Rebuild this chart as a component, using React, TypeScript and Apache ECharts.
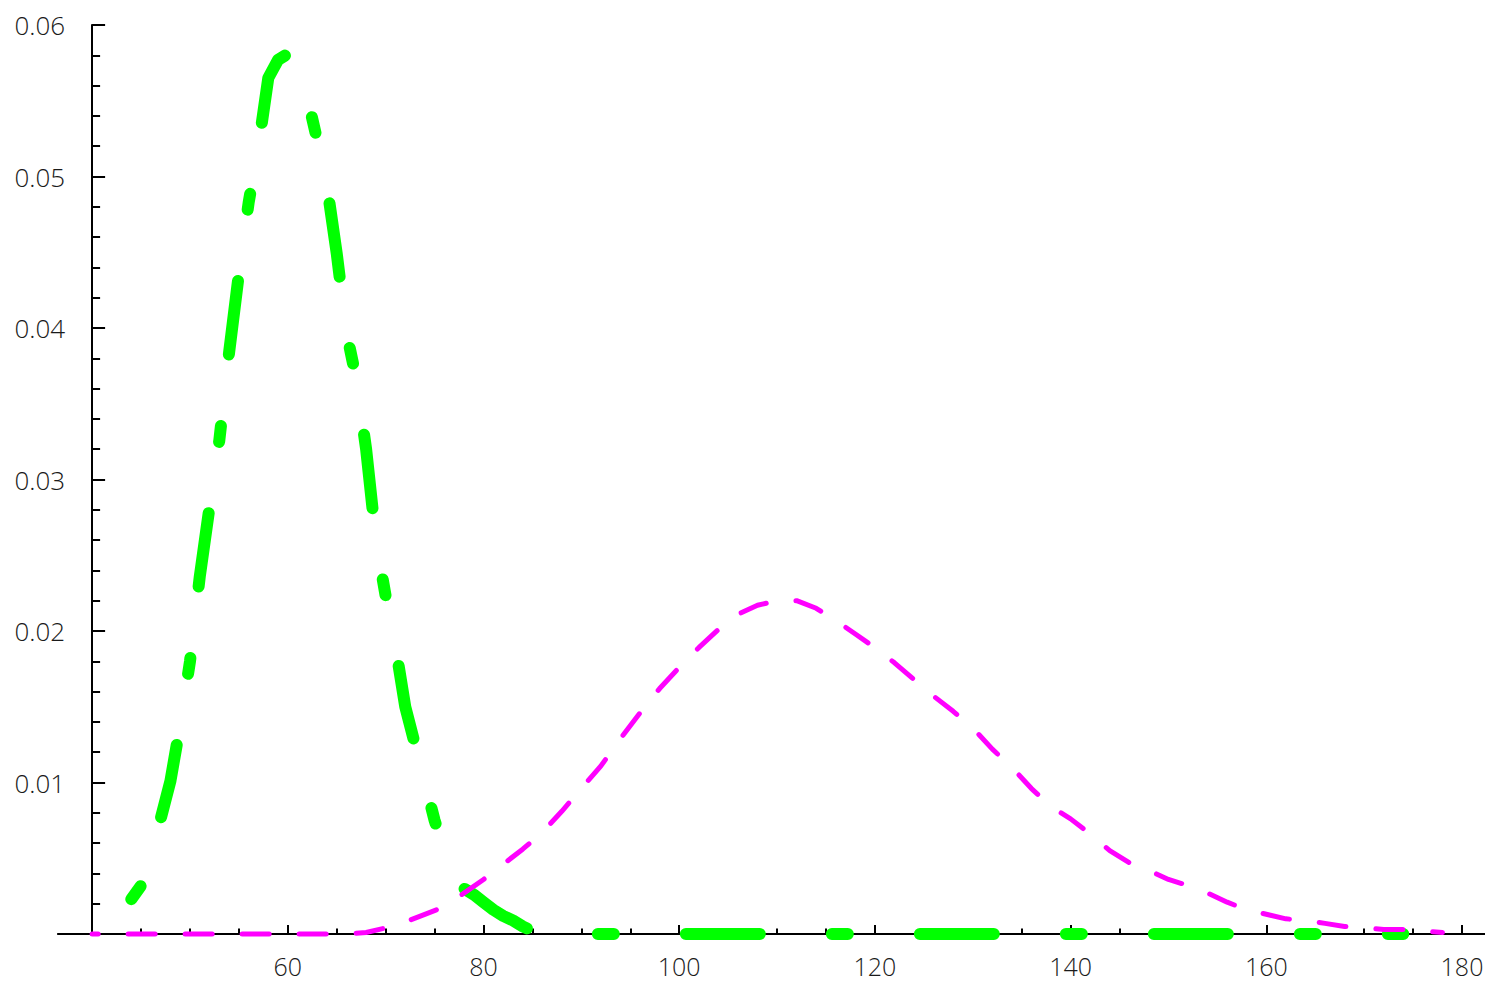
import React, { useEffect, useRef } from "react";
import * as echarts from "echarts";

// Green curve (x, y)
const greenX = [44, 45, 46, 47, 48, 49, 50, 51, 52, 53, 54, 55, 56, 57, 58, 59, 60, 61, 62, 63, 64, 65, 66, 67, 68, 69, 70, 71, 72, 73, 74, 75, 76, 77, 78, 79, 80, 81, 82, 83, 84, 85, 86, 100, 120, 140, 160, 174];
const greenY = [0.0023, 0.0032, 0.0054, 0.0076, 0.0101, 0.0138, 0.018, 0.0236, 0.0282, 0.0326, 0.0384, 0.0436, 0.0483, 0.052, 0.0565, 0.0577, 0.0581, 0.0572, 0.0552, 0.0524, 0.0494, 0.0449, 0.0397, 0.0366, 0.032, 0.026, 0.0223, 0.019, 0.015, 0.0125, 0.01, 0.0075, 0.0055, 0.004, 0.003, 0.0026, 0.0021, 0.0016, 0.0012, 0.0009, 0.0005, 0.0002, 0, 0, 0, 0, 0, 0];

// Magenta curve (x, y)
const magentaX = [40, 44, 48, 52, 56, 60, 64, 66, 68, 70, 72, 74, 76, 78, 80, 82, 84, 86, 88, 90, 92, 94, 96, 98, 100, 102, 104, 106, 108, 110, 112, 114, 116, 118, 120, 122, 124, 126, 128, 130, 132, 134, 136, 138, 140, 142, 144, 146, 148, 150, 152, 154, 156, 158, 160, 162, 164, 166, 168, 170, 172, 174, 176, 178];
const magentaY = [0, 0, 0, 0, 0, 0, 0, 0, 0.0001, 0.0004, 0.0008, 0.0013, 0.0018, 0.0027, 0.0036, 0.0046, 0.0056, 0.0067, 0.0081, 0.0096, 0.0111, 0.0129, 0.0146, 0.0162, 0.0176, 0.0189, 0.0201, 0.0211, 0.0217, 0.022, 0.022, 0.0215, 0.0207, 0.0198, 0.0189, 0.0179, 0.0168, 0.0157, 0.0147, 0.0136, 0.0122, 0.011, 0.0096, 0.0084, 0.0076, 0.0066, 0.0055, 0.0047, 0.0042, 0.0036, 0.0032, 0.0027, 0.0021, 0.0016, 0.0013, 0.001, 0.0009, 0.0007, 0.0005, 0.0004, 0.0003, 0.0003, 0.0002, 0.0001];

const xMajorTicks = [60, 80, 100, 120, 140, 160, 180];
const xMinorTicks = [45, 50, 55, 65, 70, 75, 85, 90, 95, 105, 110, 115, 125, 130, 135, 145, 150, 155, 165, 170, 175];

const X_MIN = 36.5;
const X_MAX = 182.3;

export default function App() {
  const ref = useRef<HTMLDivElement>(null);
  useEffect(() => {
    if (!ref.current) return;
    const chart = echarts.init(ref.current, null, { renderer: "svg" });
    const font = { fontFamily: "Open Sans", fontWeight: 300, fontSize: 25, color: "#1a1a1a" };
    chart.setOption({
      animation: false,
      backgroundColor: "#ffffff",
      grid: { left: 57.9, right: 0.5, top: 25, bottom: 49, containLabel: false, outerBoundsMode: "none" },
      xAxis: [
        {
          type: "value",
          min: X_MIN,
          max: X_MAX,
          position: "bottom",
          axisLine: { show: true, onZero: true, lineStyle: { color: "#000", width: 2 } },
          axisTick: { show: true, inside: true, length: 9, customValues: xMajorTicks, lineStyle: { color: "#000", width: 2 } },
          axisLabel: { show: true, customValues: xMajorTicks, margin: 19, lineHeight: 25, ...font },
          splitLine: { show: false },
        },
        {
          type: "value",
          min: X_MIN,
          max: X_MAX,
          position: "bottom",
          axisLine: { show: false },
          axisTick: { show: true, inside: true, length: 5.5, customValues: xMinorTicks, lineStyle: { color: "#000", width: 2 } },
          axisLabel: { show: false },
          splitLine: { show: false },
        },
      ],
      yAxis: {
        type: "value",
        min: 0,
        max: 0.06,
        interval: 0.01,
        position: "left",
        offset: -34.2,
        axisLine: { show: true, onZero: false, lineStyle: { color: "#000", width: 2 } },
        axisTick: { show: true, inside: true, length: 13, lineStyle: { color: "#000", width: 2 } },
        minorTick: { show: true, splitNumber: 5, length: 8, lineStyle: { color: "#000", width: 2 } },
        axisLabel: {
          margin: 27,
          formatter: (v: number) => (v === 0 ? "" : v.toFixed(2)),
          ...font,
          fontSize: 26,
        },
        splitLine: { show: false },
        minorSplitLine: { show: false },
      },
      series: [
        {
          type: "line",
          xAxisIndex: 0,
          data: greenX.map((x, i) => [x, greenY[i]]),
          showSymbol: false,
          clip: false,
          z: 2,
          lineStyle: { color: "#00ff00", width: 12, type: [16, 72, 74, 72], cap: "round", join: "round" },
        },
        {
          type: "line",
          xAxisIndex: 0,
          data: magentaX.map((x, i) => [x, magentaY[i]]),
          showSymbol: false,
          clip: false,
          z: 3,
          lineStyle: { color: "#ff00ff", width: 5, type: [27, 30], dashOffset: 21, cap: "round", join: "round" },
        },
      ],
    });
    return () => chart.dispose();
  }, []);
  return (
    <div
      ref={ref}
      style={{ position: "absolute", left: 0, top: 0, width: 1485, height: 983, background: "#fff" }}
    />
  );
}
